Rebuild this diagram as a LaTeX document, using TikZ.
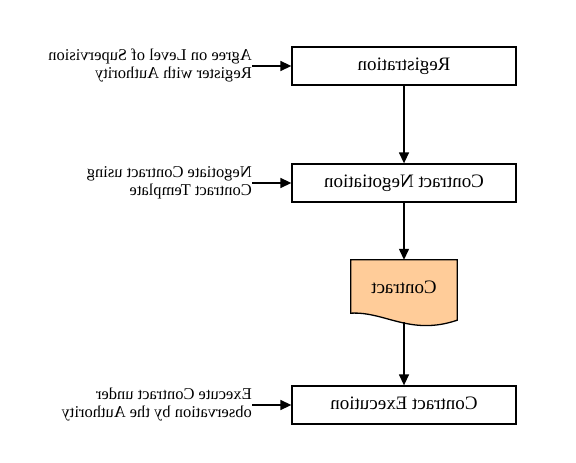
\documentclass[tikz,border=0pt]{standalone}
\usepackage{fontspec}
\setmainfont{Liberation Serif}
\usetikzlibrary{arrows.meta, positioning}
\usepackage{xcolor}
\definecolor{docpeach}{RGB}{255,204,153}

% the whole diagram is printed mirrored
\newcommand{\mirrortext}[1]{\reflectbox{\begin{tabular}{@{}l@{}}#1\end{tabular}}}

\begin{document}
\begin{tikzpicture}[
    x=1bp, y=-1bp,
    box/.style={rectangle, draw, line width=1.3bp, minimum width=224bp,
                minimum height=38bp, inner sep=0pt, font=\fontsize{19bp}{23bp}\selectfont},
    lbl/.style={inner sep=0pt, anchor=east, font=\fontsize{16.5bp}{18.5bp}\selectfont},
    arrow/.style={-{Triangle[length=11bp, width=10bp]}, line width=1.4bp}
]
\useasboundingbox (0,0) rectangle (576,463);

\node[box] (reg) at (404,66) {\mirrortext{Registration}};
\node[box] (nego) at (404,183) {\mirrortext{Contract Negotiation}};
\node[minimum width=106bp, minimum height=62bp, inner sep=0pt] (contract) at (404,291) {};
\node[box] (exec) at (404,405) {\mirrortext{Contract Execution}};

% document shape with wavy bottom
\draw[line width=1.3bp, fill=docpeach] (contract.north west) -- (contract.north east)
    -- ([yshift=2bp]contract.south east) .. controls +(-47,16) and +(34,-2) .. ([yshift=9bp]contract.south west)
    -- cycle;
\node[font=\fontsize{19bp}{23bp}\selectfont] (contracttext) at (404,289) {\mirrortext{Contract}};

\node[lbl] (agree) at (252,66) {\mirrortext{Agree on Level of Supervision\\Register with Authority}};
\node[lbl] (negotiate) at (252,183) {\mirrortext{Negotiate Contract using\\Contract Template}};
\node[lbl] (execute) at (252,405) {\mirrortext{Execute Contract under\\observation by the Authority}};

\draw[arrow] (reg) -- (nego);
\draw[arrow] (nego) -- (contract.north);
\draw[arrow] (contract.south) -- (exec);

\draw[arrow] (agree.east) -- (reg.west);
\draw[arrow] (negotiate.east) -- (nego.west);
\draw[arrow] (execute.east) -- (exec.west);
\end{tikzpicture}
\end{document}
